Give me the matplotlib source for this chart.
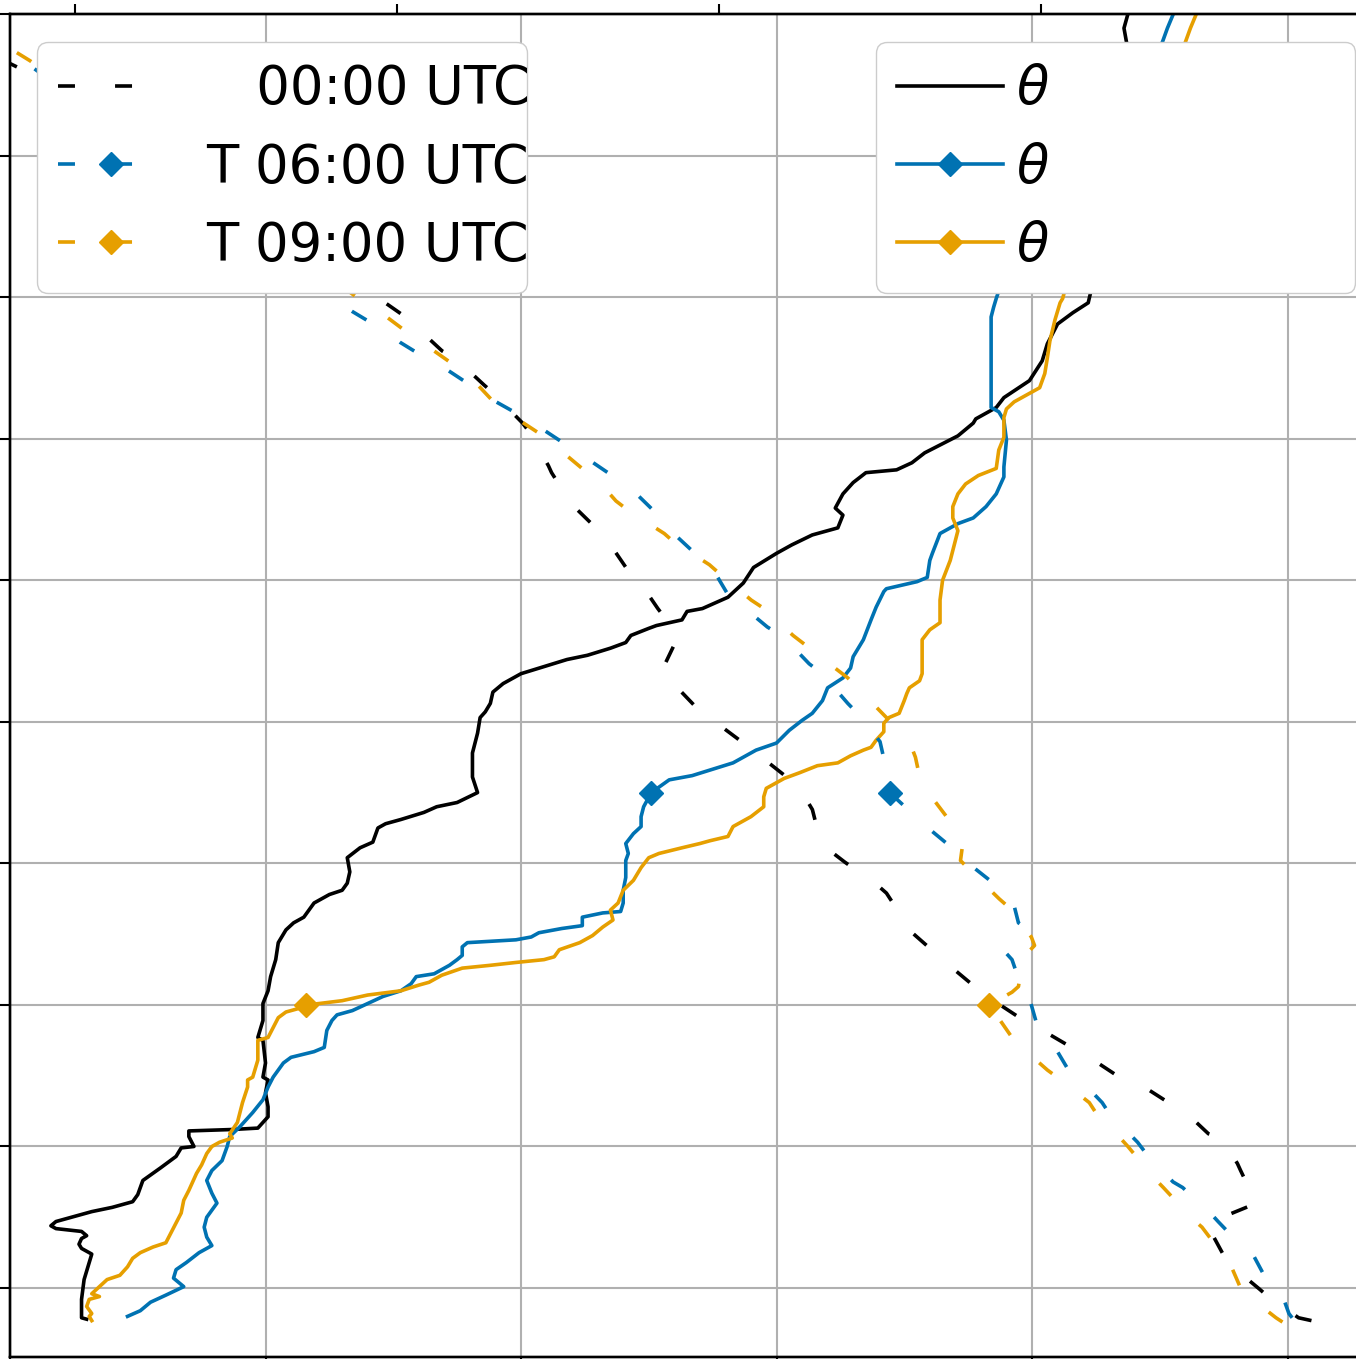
import matplotlib
matplotlib.use("Agg")
import matplotlib.pyplot as plt  # noqa: E402
from matplotlib.lines import Line2D  # noqa: E402

# potential temperature profiles (K) vs height (m)
z_theta_00 = [78, 79, 92, 106, 118, 124, 128, 131, 135, 137, 140, 142, 144, 147, 149, 154, 157, 161, 166, 176,
              185, 193, 199, 200, 207, 211, 212, 213, 217, 221, 228, 238, 247, 249, 259, 275, 277, 289, 301, 310,
              320, 332, 344, 353, 358, 362, 372, 378, 381, 386, 394, 404, 411, 415, 425, 428, 431, 436, 440, 443,
              450, 461, 478, 492, 503, 507, 513, 521, 527, 534, 539, 544, 547, 552, 556, 561, 566, 568, 572, 578,
              580, 588, 598, 609, 619, 625, 632, 637, 646, 651, 661, 669, 676, 678, 683, 690, 702, 711, 714, 722,
              729, 741, 755, 767, 781, 789, 796, 819, 854, 890, 925, 960, 980, 990, 1003]
theta_00 = [283.30, 283.28, 283.28, 283.29, 283.31, 283.32, 283.28, 283.27, 283.28, 283.30, 283.28, 283.18, 283.16,
            283.18, 283.22, 283.32, 283.40, 283.48, 283.50, 283.52, 283.59, 283.65, 283.67, 283.72, 283.70, 283.70,
            283.87, 283.97, 283.99, 284.01, 284.01, 284.00, 284.01, 283.99, 284.00, 283.99, 283.97, 283.99, 283.99,
            284.01, 284.02, 284.04, 284.05, 284.08, 284.11, 284.15, 284.19, 284.25, 284.30, 284.32, 284.33, 284.32,
            284.37, 284.42, 284.44, 284.47, 284.53, 284.62, 284.67, 284.75, 284.83, 284.81, 284.81, 284.83, 284.84,
            284.86, 284.88, 284.89, 284.93, 285.00, 285.09, 285.18, 285.26, 285.35, 285.41, 285.43, 285.50, 285.53,
            285.63, 285.65, 285.71, 285.81, 285.87, 285.91, 286.00, 286.06, 286.14, 286.24, 286.26, 286.23, 286.26,
            286.30, 286.35, 286.47, 286.53, 286.58, 286.71, 286.77, 286.78, 286.86, 286.89, 286.99, 287.04, 287.06,
            287.10, 287.16, 287.22, 287.25, 287.29, 287.31, 287.34, 287.36, 287.37, 287.36, 287.38]

z_theta_06 = [80, 84, 90, 95, 101, 107, 113, 118, 125, 130, 136, 143, 150, 160, 167, 176, 183, 190, 200, 207, 214,
              224, 233, 242, 249, 259, 263, 267, 270, 282, 289, 293, 296, 301, 306, 310, 315, 320, 322, 328, 332,
              335, 341, 344, 346, 348, 351, 354, 356, 362, 365, 366, 372, 381, 390, 402, 407, 414, 421, 426, 433,
              440, 450, 459, 462, 471, 480, 485, 494, 501, 506, 515, 524, 531, 538, 546, 558, 572, 581, 592, 594,
              599, 602, 614, 619, 633, 640, 644, 652, 661, 673, 680, 699, 713, 719, 722, 734, 753, 769, 786, 793,
              799, 826, 868, 904, 939, 967, 980, 990, 1003]
theta_06 = [283.46, 283.51, 283.55, 283.61, 283.68, 283.64, 283.65, 283.69, 283.74, 283.79, 283.77, 283.76, 283.77,
            283.81, 283.79, 283.77, 283.79, 283.83, 283.85, 283.86, 283.90, 283.95, 283.99, 284.01, 284.03, 284.07,
            284.10, 284.19, 284.23, 284.24, 284.26, 284.28, 284.34, 284.40, 284.46, 284.53, 284.57, 284.59, 284.66,
            284.72, 284.75, 284.77, 284.77, 284.79, 284.98, 285.04, 285.07, 285.16, 285.24, 285.24, 285.32, 285.39,
            285.40, 285.40, 285.41, 285.41, 285.42, 285.41, 285.44, 285.47, 285.47, 285.48, 285.51, 285.58, 285.67,
            285.83, 285.92, 286.00, 286.05, 286.10, 286.14, 286.18, 286.20, 286.26, 286.29, 286.30, 286.34, 286.37,
            286.39, 286.42, 286.43, 286.55, 286.59, 286.60, 286.61, 286.64, 286.71, 286.77, 286.82, 286.86, 286.89,
            286.89, 286.90, 286.89, 286.87, 286.84, 286.84, 286.84, 286.84, 286.84, 286.85, 286.86, 286.91, 287.03,
            287.19, 287.34, 287.46, 287.51, 287.53, 287.56]

z_theta_09 = [77, 80, 82, 87, 92, 94, 96, 106, 109, 115, 121, 125, 129, 132, 139, 146, 153, 162, 169, 181, 187, 195,
              200, 203, 206, 209, 217, 224, 231, 242, 247, 249, 261, 275, 277, 284, 291, 295, 298, 300, 301, 303,
              307, 310, 314, 316, 321, 326, 328, 330, 332, 334, 339, 344, 349, 355, 360, 367, 372, 381, 388, 397,
              404, 407, 411, 414, 416, 419, 426, 433, 440, 447, 453, 460, 464, 469, 471, 476, 480, 482, 487, 493,
              499, 503, 506, 515, 520, 524, 529, 534, 544, 558, 565, 570, 586, 600, 614, 628, 635, 644, 652, 661,
              668, 674, 679, 692, 701, 715, 721, 726, 731, 736, 746, 757, 769, 784, 796, 799, 833, 868, 904, 939,
              967, 980, 990, 1003]
theta_09 = [283.32, 283.31, 283.32, 283.30, 283.31, 283.35, 283.32, 283.38, 283.43, 283.46, 283.48, 283.51, 283.56,
            283.61, 283.63, 283.65, 283.67, 283.68, 283.70, 283.73, 283.75, 283.77, 283.79, 283.82, 283.87, 283.86,
            283.89, 283.90, 283.91, 283.93, 283.93, 283.95, 283.97, 283.97, 284.01, 284.03, 284.05, 284.08, 284.14,
            284.16, 284.21, 284.30, 284.40, 284.53, 284.60, 284.64, 284.69, 284.77, 284.88, 284.98, 285.09, 285.13,
            285.15, 285.23, 285.28, 285.32, 285.36, 285.35, 285.38, 285.40, 285.44, 285.47, 285.50, 285.54, 285.63,
            285.70, 285.74, 285.81, 285.83, 285.90, 285.95, 285.95, 285.96, 286.03, 286.09, 286.16, 286.24, 286.29,
            286.34, 286.37, 286.39, 286.42, 286.42, 286.44, 286.48, 286.50, 286.51, 286.52, 286.56, 286.57, 286.57,
            286.57, 286.60, 286.64, 286.64, 286.65, 286.68, 286.70, 286.71, 286.69, 286.69, 286.71, 286.74, 286.79,
            286.86, 286.87, 286.89, 286.89, 286.90, 286.93, 286.98, 287.03, 287.05, 287.06, 287.07, 287.09, 287.11,
            287.12, 287.17, 287.25, 287.34, 287.46, 287.56, 287.60, 287.62, 287.65]

# temperature profiles vs height (top axis)
z_T_00 = [77, 79, 95, 99, 116, 122, 143, 147, 160, 164, 183, 188, 206, 209, 224, 229, 245, 248, 263, 268, 280, 287,
          308, 327, 333, 351, 358, 379, 385, 401, 408, 429, 438, 457, 461, 479, 486, 503, 510, 529, 535, 554, 560,
          577, 580, 600, 606, 626, 632, 652, 658, 676, 681, 705, 711, 732, 738, 757, 762, 781, 787, 833, 890, 932,
          957, 967]
T_00 = [11.84, 11.80, 11.70, 11.68, 11.59, 11.57, 11.52, 11.53, 11.67, 11.66, 11.62, 11.61, 11.56, 11.52, 11.45,
        11.41, 11.30, 11.25, 11.15, 11.11, 11.02, 10.96, 10.82, 10.72, 10.69, 10.60, 10.58, 10.52, 10.49, 10.39,
        10.35, 10.30, 10.29, 10.24, 10.21, 10.11, 10.07, 9.97, 9.93, 9.85, 9.82, 9.86, 9.83, 9.82, 9.81, 9.75, 9.72,
        9.66, 9.64, 9.55, 9.53, 9.48, 9.47, 9.41, 9.39, 9.30, 9.27, 9.18, 9.14, 9.05, 9.02, 8.73, 8.36, 8.05, 7.87,
        7.78]

z_T_06 = [79, 82, 101, 106, 123, 128, 147, 152, 171, 175, 197, 203, 224, 231, 250, 256, 279, 284, 308, 312, 332,
          337, 355, 358, 376, 381, 399, 406, 423, 429, 450, 476, 486, 506, 513, 534, 541, 560, 567, 584, 589, 612,
          618, 637, 644, 664, 669, 686, 692, 707, 713, 727, 733, 748, 754, 768, 775, 790, 796, 868, 925, 967, 976,
          981]
T_06 = [11.78, 11.77, 11.74, 11.70, 11.66, 11.63, 11.55, 11.53, 11.44, 11.41, 11.32, 11.30, 11.21, 11.19, 11.11,
        11.08, 11.02, 10.99, 10.96, 10.94, 10.91, 10.89, 10.95, 10.93, 10.91, 10.88, 10.78, 10.75, 10.66, 10.63,
        10.53, 10.51, 10.50, 10.43, 10.40, 10.32, 10.28, 10.20, 10.15, 10.06, 10.03, 9.97, 9.93, 9.84, 9.82, 9.73,
        9.70, 9.59, 9.55, 9.45, 9.41, 9.30, 9.26, 9.16, 9.11, 9.01, 8.97, 8.86, 8.82, 8.42, 8.09, 7.84, 7.80, 7.77]

z_T_09 = [76, 79, 95, 100, 121, 125, 143, 149, 171, 178, 200, 205, 224, 231, 249, 254, 272, 277, 300, 309, 313,
          327, 330, 342, 348, 369, 375, 395, 402, 419, 426, 447, 454, 475, 481, 503, 510, 531, 538, 554, 561, 580,
          586, 605, 611, 627, 633, 649, 656, 674, 678, 697, 704, 719, 726, 743, 750, 766, 772, 789, 794, 868, 925,
          967, 974, 980]
T_09 = [11.75, 11.73, 11.64, 11.62, 11.58, 11.56, 11.50, 11.47, 11.38, 11.35, 11.27, 11.25, 11.17, 11.15, 11.05,
        11.02, 10.93, 10.91, 10.84, 10.91, 10.93, 10.94, 10.93, 10.98, 10.97, 10.90, 10.87, 10.78, 10.75, 10.76,
        10.73, 10.66, 10.63, 10.61, 10.60, 10.52, 10.49, 10.40, 10.36, 10.27, 10.23, 10.14, 10.10, 10.00, 9.97,
        9.86, 9.83, 9.72, 9.68, 9.61, 9.58, 9.48, 9.44, 9.34, 9.30, 9.23, 9.19, 9.09, 9.05, 8.95, 8.91, 8.47, 8.12,
        7.86, 7.81, 7.78]

# marked heights (m)
MARK_06 = 450
MARK_09 = 300

LABELS_T = ["   00:00 UTC", "T 06:00 UTC", "T 09:00 UTC"]
LABEL_THETA = r"$\theta$"

C00, C06, C09 = "black", "#0072B2", "#E69F00"
LW, MS = 2.6, 12.5
DASH = (0, (4.7, 11.1))

fig = plt.figure(figsize=(13.56, 13.59), dpi=100)
ax = fig.add_axes([10 / 1356, 2 / 1359, 1379.7 / 1356, 1343 / 1359])
ax2 = ax.twiny()

ax.plot(theta_00, z_theta_00, color=C00, lw=LW)
ax.plot(theta_06, z_theta_06, color=C06, lw=LW, marker="D", ms=MS,
        markevery=[z_theta_06.index(MARK_06)])
ax.plot(theta_09, z_theta_09, color=C09, lw=LW, marker="D", ms=MS,
        markevery=[z_theta_09.index(MARK_09)])

ax2.plot(T_00, z_T_00, color=C00, lw=LW, ls=DASH)
ax2.plot(T_06, z_T_06, color=C06, lw=LW, ls=DASH, marker="D", ms=MS, markevery=[z_T_06.index(MARK_06)])
ax2.plot(T_09, z_T_09, color=C09, lw=LW, ls=DASH, marker="D", ms=MS, markevery=[z_T_09.index(MARK_09)])

ax.set_xlim(283, 288.4)
ax.set_ylim(51.3, 1000)
ax2.set_xlim(7.798, 12.083)
ax.set_xticks(range(283, 289))
ax.set_yticks(range(100, 1001, 100))
ax2.set_xticks(range(8, 13))
ax.grid(True, color="#b0b0b0", lw=1.5)
ax.tick_params(labelbottom=False, labelleft=False, length=7, width=1.5)
ax2.tick_params(labeltop=False, length=7, width=1.5)
for a in (ax, ax2):
    for s in a.spines.values():
        s.set_linewidth(1.7)

h_T = [Line2D([], [], color=C00, lw=LW, ls=DASH),
       Line2D([], [], color=C06, lw=LW, ls=DASH, marker="D", ms=MS),
       Line2D([], [], color=C09, lw=LW, ls=DASH, marker="D", ms=MS)]
h_th = [Line2D([], [], color=C00, lw=LW),
        Line2D([], [], color=C06, lw=LW, marker="D", ms=MS),
        Line2D([], [], color=C09, lw=LW, marker="D", ms=MS)]

leg1 = ax2.legend(h_T, LABELS_T, loc="upper left", bbox_to_anchor=(0.01957, 0.5, 0.35515, 0.47915),
                  mode="expand", borderaxespad=0, fontsize=38, labelspacing=0.5, framealpha=1,
                  edgecolor="#cccccc")
ax2.add_artist(leg1)
ax2.legend(h_th, [LABEL_THETA] * 3, loc="upper left", bbox_to_anchor=(0.6277, 0.5, 0.3472, 0.47915),
           mode="expand", borderaxespad=0, fontsize=38, labelspacing=0.5, handletextpad=0.25,
           framealpha=1, edgecolor="#cccccc")

fig.savefig("out.png", dpi=100)
